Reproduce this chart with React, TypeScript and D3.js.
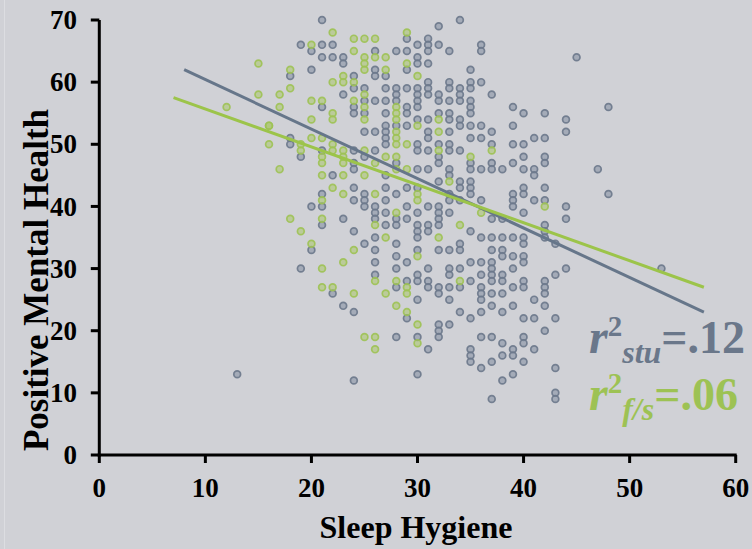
import React from 'react';
import * as d3 from 'd3';

// sleep hygiene score -> positive mental health scores (students)
const stuColumns: [number, number[]][] = [
  [13, [13]],
  [18, [61, 51, 50]],
  [19, [66, 48, 30]],
  [20, [65, 62, 40, 33]],
  [21, [70, 66, 64, 56, 49, 42, 40, 37]],
  [22, [66, 64, 45, 26]],
  [23, [64, 63, 58, 38, 24]],
  [24, [61, 59, 56, 55, 49, 47, 46, 43, 41, 36, 23, 12]],
  [25, [59, 57, 55, 52, 48, 42, 41, 40, 34]],
  [26, [65, 62, 61, 57, 52, 49, 40, 39, 38, 35, 33, 31, 29]],
  [27, [61, 59, 57, 55, 53, 52, 51, 50, 45, 43, 41, 39, 37]],
  [28, [65, 59, 58, 57, 53, 47, 42, 38, 37, 34, 32, 30, 27, 19]],
  [29, [67, 65, 62, 59, 56, 55, 53, 43, 40, 38, 31, 28, 22]],
  [30, [66, 64, 63, 59, 58, 57, 56, 54, 50, 49, 46, 43, 39, 37, 36, 35, 33, 29, 28, 25, 19, 13]],
  [31, [67, 66, 65, 63, 60, 59, 58, 54, 52, 51, 49, 46, 40, 37, 36, 30, 28, 27, 17]],
  [32, [69, 66, 58, 57, 55, 50, 48, 47, 44, 40, 39, 38, 37, 33, 27, 26, 21, 20, 19]],
  [33, [65, 60, 59, 57, 55, 54, 52, 50, 49, 46, 45, 42, 41, 39, 33, 30, 29, 27, 25, 21]],
  [34, [70, 59, 58, 57, 54, 53, 49, 44, 43, 41, 34, 33, 30, 27, 23]],
  [35, [62, 60, 59, 57, 56, 55, 53, 51, 47, 46, 44, 43, 42, 36, 31, 28, 22, 17, 16, 15]],
  [36, [66, 65, 60, 53, 51, 46, 41, 35, 31, 29, 27, 26, 25, 23, 19, 14]],
  [37, [58, 52, 50, 47, 46, 38, 35, 33, 31, 30, 29, 28, 26, 24, 19, 15, 9]],
  [38, [46, 38, 35, 33, 32, 29, 28, 26, 23, 18, 16, 12]],
  [39, [56, 53, 50, 47, 42, 41, 40, 35, 32, 30, 27, 24, 17, 16, 13]],
  [40, [55, 50, 48, 46, 43, 42, 39, 35, 34, 32, 31, 28, 27, 22, 19, 18, 15]],
  [41, [51, 46, 45, 41, 25, 22, 17]],
  [42, [55, 51, 48, 47, 43, 41, 37, 36, 35, 28, 27, 26, 24, 20]],
  [43, [34, 29, 22, 14, 10, 9]],
  [44, [54, 52, 40, 38, 30]],
  [45, [64]],
  [47, [46]],
  [48, [56, 42]],
  [53, [30]],
];

// faculty / staff
const fsColumns: [number, number[]][] = [
  [12, [56]],
  [15, [63, 58]],
  [16, [53, 53, 50]],
  [17, [58, 56, 46]],
  [18, [62, 59, 38]],
  [19, [50, 49, 36]],
  [20, [66, 57, 54, 51, 34]],
  [21, [57, 51, 48, 47, 45, 41, 38, 30, 27]],
  [22, [68, 60, 55, 54, 50, 49, 43, 27]],
  [23, [61, 60, 49, 48, 47, 45, 42, 31]],
  [24, [67, 65, 60, 57, 33, 26]],
  [25, [67, 64, 63, 62, 58, 56, 54, 49, 45, 19]],
  [26, [67, 64, 47, 42, 37, 28, 19, 17]],
  [27, [64, 62, 48, 35, 26]],
  [28, [56, 55, 54, 52, 51, 50, 48, 46, 39, 28, 24]],
  [29, [68, 63, 50, 46, 27, 26, 23]],
  [30, [61, 53, 42, 41, 32, 21, 18]],
  [32, [54, 52, 49, 35]],
  [33, [44]],
  [34, [37, 28]],
  [35, [48]],
  [36, [39]],
  [37, [49]],
  [42, [40]],
];

// fitted lines, end points
const stuFit: [number, number][] = [[8, 62], [57, 23]];
const fsFit: [number, number][] = [[7, 57.5], [57, 27]];

const xTicks = [0, 10, 20, 30, 40, 50, 60];
const yTicks = [0, 10, 20, 30, 40, 50, 60, 70];

const W = 752;
const H = 549;
const FONT = '"Liberation Serif", "Times New Roman", serif';

const GRAY = '#6b788b';
const GREEN = '#9dc254';

const flatten = (cols: [number, number[]][]) =>
  cols.flatMap(([x, ys]) => ys.map(y => ({ x, y })));

export default function App() {
  const x = d3.scaleLinear().domain([0, 60]).range([99.3, 735.7]);
  const y = d3.scaleLinear().domain([0, 70]).range([455, 20]);
  const line = d3.line<[number, number]>().x(d => x(d[0])).y(d => y(d[1]));

  const stu = flatten(stuColumns);
  const fs = flatten(fsColumns);

  return (
    <svg width={W} height={H} style={{ position: 'absolute', left: 0, top: 0 }} fontFamily={FONT}>
      <rect width={W} height={H} fill="#d0d1d6" />
      <line x1={4.5} x2={4.5} y1={0} y2={H} stroke="#dcdde1" strokeWidth={1} />

      {stu.map((d, i) => (
        <circle key={'s' + i} cx={x(d.x)} cy={y(d.y)} r={3.4}
          fill="#7f8ca0" fillOpacity={0.55} stroke={GRAY} strokeOpacity={0.9} strokeWidth={1.7} />
      ))}
      {fs.map((d, i) => (
        <circle key={'f' + i} cx={x(d.x)} cy={y(d.y)} r={3.4}
          fill="#a9c76a" fillOpacity={0.55} stroke={GREEN} strokeOpacity={0.9} strokeWidth={1.7} />
      ))}

      <path d={line(stuFit) || ''} stroke="#66768a" strokeWidth={3} fill="none" />
      <path d={line(fsFit) || ''} stroke="#9cc44a" strokeWidth={3} fill="none" />

      {/* axes */}
      <line x1={x(0)} x2={x(0)} y1={y(70)} y2={y(0) + 1.5} stroke="#000" strokeWidth={3} />
      <line x1={x(0) - 1.5} x2={x(60) + 1} y1={y(0)} y2={y(0)} stroke="#000" strokeWidth={3} />
      {yTicks.map(t => (
        <g key={'y' + t}>
          <line x1={x(0) - 8.5} x2={x(0)} y1={y(t)} y2={y(t)} stroke="#000" strokeWidth={3} />
          <text x={77} y={y(t)} dy="0.34em" textAnchor="end" fontSize={27} fontWeight="bold">{t}</text>
        </g>
      ))}
      {xTicks.map(t => (
        <g key={'x' + t}>
          <line x1={x(t)} x2={x(t)} y1={y(0)} y2={y(0) + 8} stroke="#000" strokeWidth={3} />
          <text x={x(t)} y={497} textAnchor="middle" fontSize={27} fontWeight="bold">{t}</text>
        </g>
      ))}

      <text x={416} y={538} textAnchor="middle" fontSize={32} fontWeight="bold">Sleep Hygiene</text>
      <text transform="translate(48,280) rotate(-90)" textAnchor="middle" fontSize={35} fontWeight="bold">
        Positive Mental Health
      </text>

      {/* r squared annotations */}
      <text x={589} y={353} fill="#6a778a" fontWeight="bold">
        <tspan fontSize={48} fontStyle="italic">r</tspan>
        <tspan fontSize={29} dy={-17}>2</tspan>
        <tspan fontSize={32} fontStyle="italic" dy={27}>stu</tspan>
        <tspan fontSize={46} dy={-10}>=.12</tspan>
      </text>
      <text x={589} y={410} fill="#9dc254" fontWeight="bold">
        <tspan fontSize={48} fontStyle="italic">r</tspan>
        <tspan fontSize={29} dy={-17}>2</tspan>
        <tspan fontSize={32} fontStyle="italic" dy={27}>f/s</tspan>
        <tspan fontSize={46} dy={-10}>=.06</tspan>
      </text>
    </svg>
  );
}
